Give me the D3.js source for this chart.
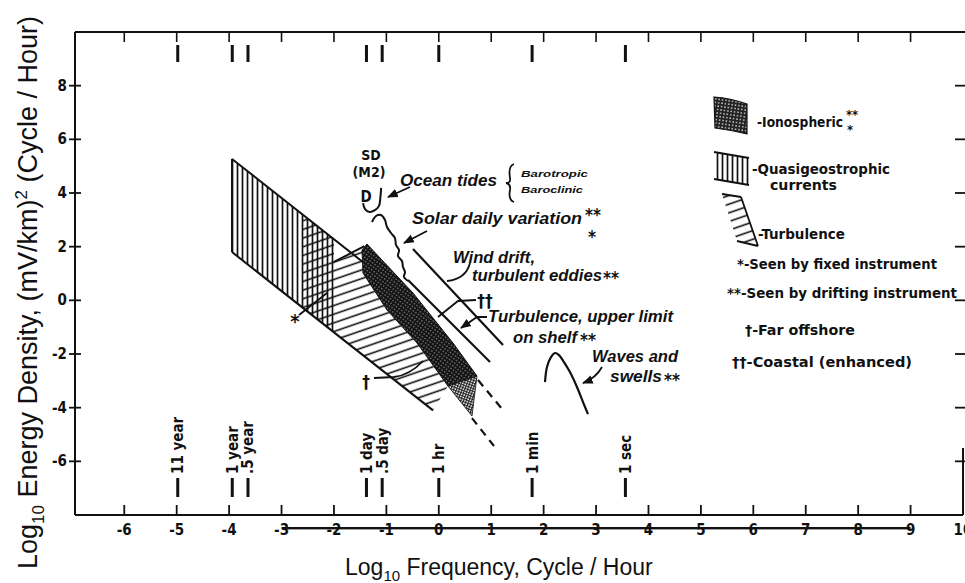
<!DOCTYPE html>
<html><head><meta charset="utf-8">
<script src="https://cdn.jsdelivr.net/npm/d3@7"></script>
<style>body{margin:0;background:#fff} svg{display:block}</style>
</head><body>
<script>
// ================= DATA =================
const xTickValues = [-6,-5,-4,-3,-2,-1,0,1,2,3,4,5,6,7,8,9];
const xTickLabelValues = [-6,-5,-4,-3,-2,-1,0,1,2,3,4,5,6,7,8,9,10];
const yTickValues = [-6,-4,-2,0,2,4,6,8];
const periodNames = ["11 year","1 year",".5 year","1 day",".5 day","1 hr","1 min","1 sec"];
const periodLogFreq = [-4.98,-3.94,-3.64,-1.38,-1.08,0,1.78,3.56];

// regions in (log10 freq, log10 energy density)
const quasiRegion = [[-3.945,5.27],[-2.0,2.275],[-2.0,-1.195],[-3.945,1.80]];
const turbulenceRegion = [[-2.6,3.20],[-2.0,2.275],[-2.0,1.43],[-1.42,2.02],[-1.446,1.017],[-0.988,-0.362],[-0.416,-1.591],[0.175,-3.194],[-0.11,-4.10],[-2.6,-0.27]];
const ionosphericRegion = [[-1.465,1.875],[-1.37,2.098],[-0.492,0.272],[0.271,-1.591],[0.729,-2.821],[0.175,-3.194],[-0.416,-1.591],[-0.988,-0.362],[-1.446,1.017]];
const ionosphericTip = [[0.175,-3.194],[0.729,-2.821],[0.633,-4.312]];
const bandTopEdge = [[-3.945,5.27],[-1.45,1.43]];
const bandBottomEdge = [[-3.945,1.80],[-0.11,-4.10]];
const bandLeftEdge = [[-3.945,5.27],[-3.945,1.80]];
const turbTopEdge = [[-2.0,1.43],[-1.42,2.02]];
const windDriftLine = [[-0.492,1.912],[1.225,-1.666]];
const shelfLimitLine = [[-0.588,0.757],[0.977,-2.30]];
const coastalDashA = [[0.748,-2.97],[1.225,-4.09]];
const coastalDashB = [[0.633,-4.39],[1.053,-5.43]];
const solarDailyCurve = [[-1.274,2.918],[-1.198,3.142],[-1.103,3.179],[-1.027,2.993],[-0.988,2.732],[-0.912,2.508],[-0.836,2.322],[-0.816,2.061],[-0.759,1.875],[-0.778,1.651],[-0.702,1.465],[-0.683,1.241],[-0.645,1.055],[-0.664,0.868],[-0.588,0.719]];
const tidalPeaks = [[-1.445,3.62],[-1.408,3.40],[-1.32,3.29],[-1.22,3.36],[-1.14,3.52],[-1.115,3.82],[-1.10,4.19]];
const wavesCurve = [[2.026,-3.045],[2.064,-2.486],[2.140,-2.113],[2.216,-1.964],[2.293,-2.039],[2.388,-2.300],[2.502,-2.673],[2.636,-3.232],[2.751,-3.791],[2.846,-4.238]];

// ================= CHART =================
const W = 965, H = 583;
const x = d3.scaleLinear().domain([-6.94,10]).range([75,963]);
const y = d3.scaleLinear().domain([-8,10]).range([515,32]);
const svg = d3.select("body").append("svg").attr("width",W).attr("height",H);
svg.append("rect").attr("width",W).attr("height",H).attr("fill","#fff");

const INK = "#111";
const tickFont = "'DejaVu Sans Condensed','Liberation Sans Narrow',sans-serif";
const handFont = "'Liberation Sans','Arial',sans-serif";

// patterns
const defs = svg.append("defs");
const pv = defs.append("pattern").attr("id","vh").attr("patternUnits","userSpaceOnUse").attr("width",5).attr("height",10);
pv.append("line").attr("x1",2.5).attr("x2",2.5).attr("y1",-1).attr("y2",11).attr("stroke",INK).attr("stroke-width",1.7);
const pt = defs.append("pattern").attr("id","th").attr("patternUnits","userSpaceOnUse").attr("width",40).attr("height",8.2).attr("patternTransform","rotate(-19)");
pt.append("line").attr("x1",-1).attr("x2",41).attr("y1",4).attr("y2",4).attr("stroke",INK).attr("stroke-width",1.6);
const pd = defs.append("pattern").attr("id","io").attr("patternUnits","userSpaceOnUse").attr("width",3.2).attr("height",3.2).attr("patternTransform","rotate(35)");
pd.append("rect").attr("width",3.2).attr("height",3.2).attr("fill","#141414");
pd.append("rect").attr("x",1).attr("y",1).attr("width",1.1).attr("height",1.1).attr("fill","#aaa");
const pl = defs.append("pattern").attr("id","iol").attr("patternUnits","userSpaceOnUse").attr("width",2.6).attr("height",2.6).attr("patternTransform","rotate(20)");
pl.append("rect").attr("width",2.6).attr("height",2.6).attr("fill","#fff");
pl.append("rect").attr("width",2.6).attr("height",1.1).attr("fill","#222");
pl.append("rect").attr("width",1.1).attr("height",2.6).attr("fill","#222");
const pil = defs.append("pattern").attr("id","iolg").attr("patternUnits","userSpaceOnUse").attr("width",3.4).attr("height",3.4).attr("patternTransform","rotate(8)");
pil.append("rect").attr("width",3.4).attr("height",3.4).attr("fill","#222");
pil.append("rect").attr("x",1.1).attr("y",1.1).attr("width",1.4).attr("height",1.4).attr("fill","#ddd");

const line = d3.line().x(d=>x(d[0])).y(d=>y(d[1]));
const smooth = d3.line().x(d=>x(d[0])).y(d=>y(d[1])).curve(d3.curveCatmullRom);

// ---- frame / axes ----
const fr = svg.append("g").attr("stroke",INK).attr("fill","none");
fr.append("line").attr("x1",x.range()[0]).attr("x2",W).attr("y1",y(10)).attr("y2",y(10)).attr("stroke-width",2);
fr.append("line").attr("x1",x.range()[0]).attr("x2",x.range()[0]).attr("y1",y(10)).attr("y2",y(-8)).attr("stroke-width",2);
fr.append("line").attr("x1",x.range()[0]).attr("x2",x(10)).attr("y1",y(-8)).attr("y2",y(-8)).attr("stroke-width",2);
fr.append("line").attr("x1",x(10)).attr("x2",x(10)).attr("y1",y(-5.5)).attr("y2",y(-8)).attr("stroke-width",2);

xTickValues.forEach(v=>{
  fr.append("line").attr("x1",x(v)).attr("x2",x(v)).attr("y1",y(-8)).attr("y2",y(-8)-10).attr("stroke-width",1.8);
  fr.append("line").attr("x1",x(v)).attr("x2",x(v)).attr("y1",y(10)).attr("y2",y(10)+10).attr("stroke-width",1.6);
});
yTickValues.forEach(v=>{
  fr.append("line").attr("x1",x.range()[0]-6).attr("x2",x.range()[0]+6).attr("y1",y(v)).attr("y2",y(v)).attr("stroke-width",1.8);
  fr.append("line").attr("x1",x(10)-8).attr("x2",W).attr("y1",y(v)).attr("y2",y(v)).attr("stroke-width",1.8);
});
const tl = svg.append("g").attr("font-family",tickFont).attr("font-weight","bold").attr("font-size",15).attr("fill",INK);
xTickLabelValues.forEach(v=>{
  tl.append("text").attr("x",x(v)).attr("y",y(-8)+20).attr("text-anchor","middle").text(String(v));
});
yTickValues.forEach(v=>{
  tl.append("text").attr("x",x.range()[0]-8).attr("y",y(v)+5).attr("text-anchor","end").text(String(v));
});
// scan artefact rule crossing the tick labels
svg.append("rect").attr("x",x(-3)).attr("y",y(-8)+12).attr("width",x(9)-x(-3)).attr("height",2.4).attr("fill",INK);

// period markers
periodLogFreq.forEach((f,i)=>{
  fr.append("line").attr("x1",x(f)).attr("x2",x(f)).attr("y1",478).attr("y2",497).attr("stroke-width",3);
  fr.append("line").attr("x1",x(f)).attr("x2",x(f)).attr("y1",45).attr("y2",62).attr("stroke-width",3);
  tl.append("text").attr("transform",`translate(${x(f)},474) rotate(-90)`).attr("dy","0.36em")
    .attr("font-size",15).text(periodNames[i]);
});

// ---- regions ----
const g = svg.append("g");
g.append("path").attr("d",line(turbulenceRegion)+"Z").attr("fill","url(#th)");
g.append("path").attr("d",line(quasiRegion)+"Z").attr("fill","url(#vh)");
g.append("path").attr("d",line(ionosphericRegion)+"Z").attr("fill","url(#io)").attr("stroke",INK).attr("stroke-width",1);
g.append("path").attr("d",line(ionosphericTip)+"Z").attr("fill","url(#iol)").attr("stroke",INK).attr("stroke-width",0.8);
[bandTopEdge,bandBottomEdge,bandLeftEdge,turbTopEdge].forEach(e=>
  g.append("path").attr("d",line(e)).attr("stroke",INK).attr("stroke-width",2).attr("fill","none"));
[windDriftLine,shelfLimitLine].forEach(e=>
  g.append("path").attr("d",line(e)).attr("stroke",INK).attr("stroke-width",2.2).attr("fill","none"));
[coastalDashA,coastalDashB].forEach(e=>
  g.append("path").attr("d",line(e)).attr("stroke",INK).attr("stroke-width",2.2).attr("stroke-dasharray","8,6").attr("fill","none"));
g.append("path").attr("d",smooth(solarDailyCurve)).attr("stroke",INK).attr("stroke-width",2).attr("fill","none");
g.append("path").attr("d",smooth(tidalPeaks)).attr("stroke",INK).attr("stroke-width",2).attr("fill","none");
g.append("path").attr("d",smooth(wavesCurve)).attr("stroke",INK).attr("stroke-width",2.2).attr("fill","none");

// ---- annotations ----
defs.append("marker").attr("id","arr").attr("viewBox","0 0 10 10").attr("refX",9).attr("refY",5)
  .attr("markerWidth",6).attr("markerHeight",6).attr("orient","auto-start-reverse")
  .append("path").attr("d","M0,1 L10,5 L0,9 Z").attr("fill",INK);
const an = svg.append("g").attr("fill",INK);
const lead = (d,arrow)=>{const p=an.append("path").attr("d",d).attr("stroke",INK).attr("stroke-width",1.8).attr("fill","none"); if(arrow) p.attr("marker-end","url(#arr)");};
lead("M410,187 L388,197",true);
lead("M427,231 L404,243",true);
lead("M470,263 Q466,279 447,281",false);
lead("M476,300 L458,301 L438,317",false);
lead("M487,317 L477,317 L461,328",true);
lead("M602,367 Q596,378 583,383",true);
lead("M299,315 L327,293",false);
lead("M374,378 L394,377 Q410,375 423,361",false);
lead("M514,164 Q508,166 510,178 Q511,183 506,183 Q511,184 510,190 Q508,200 514,202",false);

const hand = (t,x0,y0,w,size)=>an.append("text").attr("x",x0).attr("y",y0)
  .attr("font-family",handFont).attr("font-style","italic").attr("font-weight","bold")
  .attr("font-size",size||16).attr("textLength",w).attr("lengthAdjust","spacingAndGlyphs").text(t);
const star = (t,x0,y0,size)=>an.append("text").attr("x",x0).attr("y",y0).attr("font-family",tickFont)
  .attr("font-weight","bold").attr("font-size",size||16).text(t);
hand("Ocean tides",400,186,97,16);
hand("Barotropic",521,177,67,9.5);
hand("Baroclinic",521,193,62,9.5);
hand("Solar daily variation",412,224,170,16);
star("**",585,221,17); star("*",588,243,17);
hand("Wind drift,",453,263,82,16);
hand("turbulent eddies",472,281,130,16);
star("**",603,284,17);
hand("Turbulence, upper limit",488,322,185,16);
hand("on shelf",513,343,64,16);
star("**",580,346,17);
hand("Waves and",592,362,86,16);
hand("swells",610,382,52,16);
star("**",664,386,17);
const sb = (t,x0,y0,size)=>an.append("text").attr("x",x0).attr("y",y0).attr("font-family",tickFont)
  .attr("font-weight","bold").attr("font-size",size||13).attr("text-anchor","middle").text(t);
sb("SD",371,160,14); sb("(M2)",369,177,14); sb("D",366,202,15);
sb("*",295,328,20); sb("†",366,388,17); sb("††",485,307,17);

// ---- legend ----
const lg = svg.append("g").attr("fill",INK).attr("font-family",tickFont).attr("font-weight","bold").attr("font-size",14);
const lt = (t,x0,y0,w)=>lg.append("text").attr("x",x0).attr("y",y0).attr("textLength",w).attr("lengthAdjust","spacingAndGlyphs").text(t);
lg.append("path").attr("d","M714,97 Q730,98 747,104 L747,134 Q731,130 715,128 Z").attr("fill","url(#iolg)").attr("stroke",INK).attr("stroke-width",1.2);
lt("-Ionospheric",757,127,86);
lg.append("text").attr("x",846).attr("y",119).attr("font-size",13).text("**");
lg.append("text").attr("x",847).attr("y",134).attr("font-size",13).text("*");
lg.append("path").attr("d","M714,152 L749,158 L749,185 L714,179 Z").attr("fill","url(#vh)");
lg.append("path").attr("d","M714,152 L749,158 M714,179 L749,185").attr("stroke",INK).attr("stroke-width",2).attr("fill","none");
lt("-Quasigeostrophic",752,174,138); lt("currents",770,190,67);
lg.append("path").attr("d","M722,194 L741,197 L758,246 L737,241 Z").attr("fill","url(#th)");
lg.append("path").attr("d","M722,194 L741,197 M737,241 L758,246 M741,197 L758,246").attr("stroke",INK).attr("stroke-width",1.8).attr("fill","none");
lt("-Turbulence",758,239,87);
lt("*-Seen by fixed instrument",737,269,200);
lt("**-Seen by drifting instrument",727,298,230);
lt("†-Far offshore",745,335,110);
lt("††-Coastal (enhanced)",732,367,180);

// ---- axis titles ----
const at = svg.append("g").attr("fill",INK).attr("font-family",handFont).attr("font-size",23);
const xt = at.append("text").attr("x",345).attr("y",575);
xt.append("tspan").text("Log");
xt.append("tspan").attr("font-size",15).attr("dy",6).text("10");
xt.append("tspan").attr("dy",-6).text(" Frequency,  Cycle / Hour");
const yt = at.append("text").attr("transform","translate(37,569) rotate(-90)").attr("font-size",27);
yt.append("tspan").text("Log");
yt.append("tspan").attr("font-size",17).attr("dy",7).text("10");
yt.append("tspan").attr("dy",-7).text(" Energy Density,  (mV/km)");
yt.append("tspan").attr("font-size",17).attr("dy",-10).text("2");
yt.append("tspan").attr("dy",10).text(" (Cycle / Hour)");
</script>
</body></html>
